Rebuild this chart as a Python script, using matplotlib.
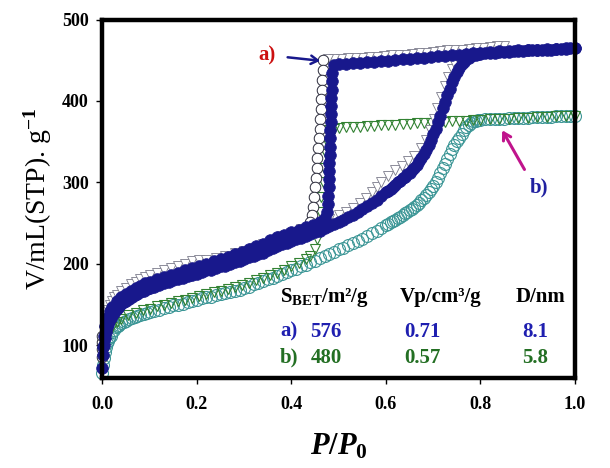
import matplotlib
matplotlib.use('Agg')
import matplotlib.pyplot as plt
import numpy as np

plt.rcParams['font.family'] = ['Liberation Serif', 'DejaVu Serif']
plt.rcParams['font.weight'] = 'bold'
plt.rcParams['mathtext.fontset'] = 'custom'
plt.rcParams['mathtext.rm'] = 'Liberation Serif:bold'
plt.rcParams['mathtext.bf'] = 'Liberation Serif:bold'
plt.rcParams['mathtext.it'] = 'Liberation Serif:italic:bold'

# ---------------- data ----------------
# relative-pressure grid of the adsorption branches
p_ads = [0.000, 0.002, 0.004, 0.006, 0.008, 0.010, 0.012, 0.014, 0.017, 0.020,
         0.024, 0.028, 0.032, 0.036, 0.040, 0.045, 0.050, 0.056, 0.062, 0.068,
         0.074, 0.080, 0.087, 0.094,
         0.10, 0.11, 0.12, 0.13, 0.14, 0.15, 0.16, 0.17, 0.18, 0.19,
         0.20, 0.21, 0.22, 0.23, 0.24, 0.25, 0.26, 0.27, 0.28, 0.29,
         0.30, 0.31, 0.32, 0.33, 0.34, 0.35, 0.36, 0.37, 0.38, 0.39,
         0.40, 0.41, 0.42, 0.43, 0.44, 0.45, 0.46, 0.47, 0.48, 0.49,
         0.50, 0.51, 0.52, 0.53, 0.54, 0.55, 0.56, 0.57, 0.58, 0.59, 0.60,
         0.605, 0.610, 0.615, 0.620, 0.625, 0.630, 0.635, 0.640, 0.645, 0.650,
         0.655, 0.660, 0.665, 0.670, 0.675, 0.680, 0.685, 0.690, 0.695, 0.700,
         0.705, 0.710, 0.715, 0.720, 0.725, 0.730, 0.735, 0.740, 0.745, 0.750,
         0.755, 0.760, 0.765, 0.770, 0.775, 0.780, 0.785, 0.790, 0.795, 0.800,
         0.81, 0.82, 0.83, 0.84, 0.85, 0.86, 0.87, 0.88, 0.89, 0.90,
         0.91, 0.92, 0.93, 0.94, 0.95, 0.96, 0.97, 0.98, 0.99, 1.00]

# sample a) adsorption (blue filled circles)
a_ads_v = [72, 88, 100, 109, 116, 122, 126, 130, 134, 137,
           140, 143.5, 146, 148.5, 151, 153, 155, 157.5, 160, 161.5,
           163, 165, 167, 169,
           170, 172, 174, 176, 178, 180, 181, 183, 185, 187,
           188, 190, 192, 193, 195, 197, 198, 200, 202, 204,
           206, 208, 210, 212, 214, 217, 219, 222, 224, 226,
           228, 230, 232, 234, 237, 239, 241, 244, 246, 249,
           252, 254, 257, 260, 264, 267, 271, 275, 279, 284, 288,
           290, 292, 295, 297, 300, 302, 305, 307, 310, 312,
           315, 318, 322, 326, 330, 335, 340, 346, 352, 359,
           366, 374, 382, 391, 399, 407, 415, 423, 430, 436,
           441, 445, 448, 451, 453, 455, 456, 457, 457.5, 458,
           458.5, 459, 459.5, 460, 460, 460.5, 461, 461, 461.5, 462,
           462, 462.5, 463, 463, 463, 463.5, 464, 464, 464.5, 465]

# sample a) desorption (blue filled circles)
a_des_p = [1.000, 0.980, 0.960, 0.940, 0.920, 0.900, 0.880, 0.860, 0.840, 0.820,
           0.800, 0.785, 0.770, 0.755, 0.740, 0.725, 0.710, 0.695, 0.680, 0.665,
           0.650, 0.635, 0.620, 0.605, 0.590, 0.575, 0.560, 0.545, 0.530, 0.515,
           0.500, 0.490,
           0.486, 0.485, 0.485, 0.484, 0.484, 0.483, 0.483, 0.482, 0.482, 0.481,
           0.481, 0.480, 0.480, 0.479, 0.479, 0.478, 0.477, 0.476,
           0.470, 0.460, 0.445, 0.430, 0.415, 0.400, 0.385, 0.370, 0.355, 0.340,
           0.325, 0.310, 0.295, 0.280, 0.265, 0.250, 0.235, 0.220, 0.205, 0.190,
           0.175, 0.160, 0.145, 0.130, 0.115, 0.100, 0.090, 0.080, 0.070, 0.060,
           0.050, 0.040, 0.030, 0.020, 0.015, 0.010, 0.006, 0.003, 0.001]
a_des_v = [465, 464.5, 464, 463.5, 463, 462.5, 462, 461.5, 461, 460,
           459, 458.5, 458, 457, 456.5, 455.5, 455, 454, 453, 452.5,
           452, 451, 450, 449.5, 449, 448, 447.5, 447, 446.5, 446,
           445, 444,
           434, 424, 414, 404, 394, 384, 374, 364, 354, 344,
           334, 324, 314, 304, 294, 284, 274, 264,
           256, 251, 248, 245, 242, 239, 236, 233, 229, 225,
           222, 218, 215, 212, 209, 206, 203, 200, 198, 195,
           192, 189, 186, 184, 181, 178, 176, 173, 170, 167,
           163, 159, 154, 147, 142, 134, 124, 112, 98]

# sample a) open triangles
a_tri_p = [0.004, 0.008, 0.012, 0.016, 0.020, 0.025, 0.030, 0.040, 0.050, 0.060,
           0.070, 0.080, 0.090, 0.100, 0.115, 0.130, 0.145, 0.160, 0.175, 0.190,
           0.205, 0.220, 0.240, 0.260, 0.280, 0.300, 0.320, 0.340, 0.360, 0.380,
           0.400, 0.420, 0.440, 0.460, 0.480, 0.500, 0.515, 0.530, 0.545, 0.558,
           0.570, 0.580, 0.589, 0.605, 0.620, 0.633, 0.646, 0.660, 0.674, 0.684,
           0.693, 0.701, 0.709, 0.717, 0.725, 0.732, 0.739, 0.745, 0.750,
           0.850, 0.835, 0.820, 0.805, 0.790, 0.775, 0.760, 0.745, 0.730, 0.715,
           0.700, 0.685, 0.670, 0.655, 0.640, 0.625, 0.610, 0.595, 0.580, 0.565,
           0.550, 0.535, 0.520, 0.505, 0.490, 0.478]
a_tri_v = [118, 134, 143, 150, 155, 159, 162, 167, 171, 175,
           178, 181, 184, 186, 189, 192, 195, 197, 200, 203,
           205, 205, 207, 210, 213, 216, 220, 224, 229, 234,
           238, 243, 247, 251, 255, 260, 264, 269, 275, 281,
           288, 294, 300, 308, 315, 320, 326, 333, 342, 352,
           364, 378, 392, 405, 418, 429, 439, 447, 454,
           467, 467, 466, 465, 465, 464, 463, 462.5, 462, 461,
           460, 459.5, 459, 458, 457, 456.5, 456, 455, 454.5, 454,
           453, 453, 452.5, 452, 451, 451]

# sample a) open black circles
a_circ_p = [0.467, 0.466, 0.465, 0.464, 0.463, 0.462, 0.461, 0.460, 0.459,
            0.457, 0.455, 0.453, 0.451, 0.449, 0.447, 0.445, 0.443, 0.440,
            0.000, 0.000, 0.000, 0.000]
a_circ_v = [450, 438, 426, 414, 402, 390, 378, 366, 354,
            342, 330, 318, 306, 294, 282, 270, 260, 251,
            86, 95, 104, 112]

# sample b) adsorption (open teal circles)
b_ads_v = [66, 76, 85, 92, 98, 103, 106, 109, 112, 116,
           119, 122, 124, 125, 127, 128.5, 130, 132, 133.5, 135,
           136, 137, 138.5, 140,
           141, 142, 144, 146, 147, 149, 150, 151, 153, 155,
           156, 158, 159, 160, 162, 163, 164, 166, 167, 168,
           170, 172, 175, 177, 179, 181, 183, 185, 188, 190,
           192, 194, 197, 199, 202, 204, 207, 210, 212, 215,
           218, 220, 223, 226, 228, 231, 234, 238, 241, 244, 248,
           249.5, 251, 252.5, 254, 256, 258, 260, 262, 264, 266,
           268, 270, 272.5, 275, 278, 281, 284.5, 288, 292, 296,
           301, 306, 312, 318, 323, 329, 335, 341, 346, 351,
           355, 359, 364, 368, 371, 373, 375, 376, 376.5, 377,
           377.5, 378, 378, 378.5, 378.5, 379, 379, 379, 379.5, 379.5,
           380, 380, 380, 380.5, 380.5, 381, 381, 381.5, 381.5, 382]

# sample b) desorption (open green triangles)
b_des_p = [1.000, 0.980, 0.960, 0.940, 0.920, 0.900, 0.880, 0.860, 0.840, 0.820,
           0.800, 0.785, 0.770, 0.755, 0.740, 0.725, 0.710, 0.695, 0.680, 0.665,
           0.650, 0.635, 0.620, 0.605, 0.590, 0.575, 0.560, 0.545, 0.530, 0.515,
           0.500, 0.490, 0.480, 0.475, 0.472, 0.469, 0.466, 0.463, 0.460, 0.457,
           0.454, 0.450, 0.440, 0.430, 0.415, 0.400, 0.385, 0.370, 0.355, 0.340,
           0.325, 0.310, 0.295, 0.280, 0.265, 0.250, 0.235, 0.220, 0.205, 0.190,
           0.175, 0.160, 0.145, 0.130, 0.115, 0.100, 0.085, 0.070, 0.055, 0.040,
           0.030, 0.020, 0.012, 0.006, 0.002]
b_des_v = [382, 381.5, 381, 380.5, 380, 379.5, 379, 378.5, 378, 377.5,
           377, 376.5, 376, 375.5, 375, 374.5, 374, 373.5, 373, 372.5,
           372, 371.5, 371, 370.5, 370, 369.5, 369, 368.5, 368, 367.5,
           367, 366, 364, 350, 335, 318, 300, 282, 264, 246,
           230, 218, 210, 206, 201, 197, 193, 189, 186, 183,
           180, 177, 174, 172, 169, 167, 165, 163, 161, 158,
           156, 154, 152, 150, 148, 145, 143, 140, 137, 133,
           129, 123, 114, 104, 90]

# texture-property table
table_header = ['S$_{\\mathrm{BET}}$/m²/g', 'Vp/cm³/g', 'D/nm']
row_labels = ['a)', 'b)']
s_bet = ['576', '480']
vp = ['0.71', '0.57']
d_nm = ['8.1', '5.8']
row_colors = ['#1f1fb0', '#236f23']

x_ticks = [0.0, 0.2, 0.4, 0.6, 0.8, 1.0]
y_ticks = [100, 200, 300, 400, 500]

# ---------------- figure ----------------
BLUE = '#18188c'
TEAL = '#3c9696'
GREEN = '#328232'

fig = plt.figure(figsize=(6.1, 4.68), dpi=100)
ax = fig.add_axes([0.168, 0.1923, 0.7746, 0.7660])

ax.plot(p_ads, b_ads_v, ls='none', marker='o', ms=8.6, mfc='none', mec=TEAL,
        mew=0.8, clip_on=False, zorder=2)
ax.plot(b_des_p, b_des_v, ls='none', marker='v', ms=7.5, mfc='none', mec=GREEN,
        mew=0.8, clip_on=False, zorder=2.5)
ax.plot(a_tri_p, a_tri_v, ls='none', marker='v', ms=7.0, mfc='white', mec='#7a7a8a',
        mew=0.6, clip_on=False, zorder=2.8)
ax.plot(a_circ_p, a_circ_v, ls='none', marker='o', ms=7.6, mfc='white', mec='#2a2a3a',
        mew=0.7, clip_on=False, zorder=2.8)
ax.plot(p_ads, a_ads_v, ls='none', marker='o', ms=8.4, mfc=BLUE, mec=BLUE,
        mew=0.5, clip_on=False, zorder=3)
ax.plot(a_des_p, a_des_v, ls='none', marker='o', ms=8.4, mfc=BLUE, mec=BLUE,
        mew=0.5, clip_on=False, zorder=3)

ax.set_xlim(0.0, 1.0)
ax.set_ylim(60, 500)
ax.set_xticks(x_ticks)
ax.set_xticklabels([f'{t:.1f}' for t in x_ticks])
ax.set_yticks(y_ticks)
ax.set_yticklabels([str(t) for t in y_ticks])
for s in ax.spines.values():
    s.set_linewidth(3.2)
    s.set_zorder(6)
ax.tick_params(axis='both', direction='out', length=4, width=1, labelsize=13)
ax.tick_params(axis='x', pad=9)
ax.tick_params(axis='y', pad=6)

ax.set_ylabel('V/mL(STP). g$^{\\mathrm{-1}}$', fontsize=20)
ax.yaxis.set_label_coords(-0.102, 0.5)
ax.set_xlabel('$\\mathit{P/P_0}$', fontsize=22)
ax.xaxis.set_label_coords(0.5, -0.15)

# annotations
ax.annotate('', xy=(0.4667, 449), xytext=(0.386, 454),
            arrowprops=dict(arrowstyle='->,head_length=0.5,head_width=0.3',
                            color=BLUE, lw=1.8), annotation_clip=False, zorder=7)
ax.text(0.348, 450.3, 'a)', color='#cc1010', fontsize=15, ha='center', va='baseline')
ax.annotate('', xy=(0.843, 367), xytext=(0.896, 313),
            arrowprops=dict(arrowstyle='->,head_length=0.5,head_width=0.3',
                            color='#c0148c', lw=2.2), annotation_clip=False, zorder=7)
ax.text(0.924, 288.3, 'b)', color='#2020a0', fontsize=15, ha='center', va='baseline')

# table
col_x = [0.473, 0.678, 0.915]
hdr_x = [0.3757, 0.716, 0.926]
ax.text(hdr_x[0], 153.3, table_header[0], fontsize=15, ha='left', va='baseline')
ax.text(hdr_x[1], 153.3, table_header[1], fontsize=15, ha='center', va='baseline')
ax.text(hdr_x[2], 153.3, table_header[2], fontsize=15, ha='center', va='baseline')
row_y = [110.4, 78.6]
for i in range(2):
    c = row_colors[i]
    ax.text(0.3757, row_y[i], row_labels[i], color=c, fontsize=15, ha='left', va='baseline')
    ax.text(col_x[0], row_y[i], s_bet[i], color=c, fontsize=15, ha='center', va='baseline')
    ax.text(col_x[1], row_y[i], vp[i], color=c, fontsize=15, ha='center', va='baseline')
    ax.text(col_x[2], row_y[i], d_nm[i], color=c, fontsize=15, ha='center', va='baseline')

fig.savefig('out.png', dpi=100)
